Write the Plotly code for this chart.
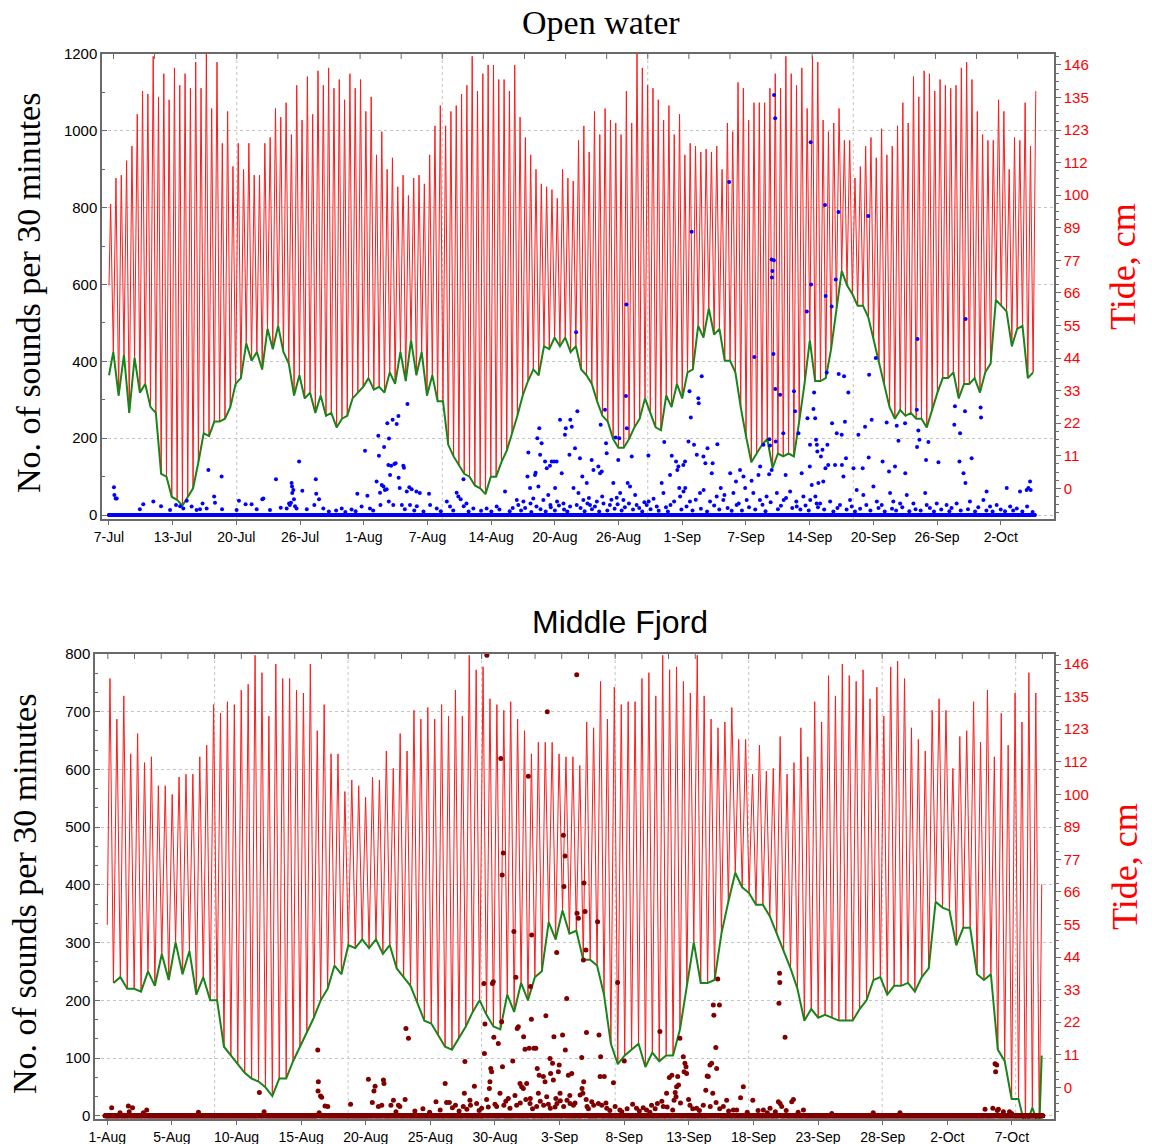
import pandas as pd
import plotly.graph_objects as go

# ---------------------------------------------------------------------------
# Open water station: tide (cm) per tidal cycle and call counts per 30 min
# ---------------------------------------------------------------------------
OW_TIDE_HIGH = [
    98, 107, 108, 113, 118, 129, 137, 136, 149, 135,
    143, 134, 145, 139, 143, 138, 147, 138, 150, 131,
    147, 119, 130, 111, 119, 110, 119, 108, 108, 119,
    121, 131, 128, 133, 122, 139, 127, 142, 129, 144,
    139, 145, 138, 141, 134, 143, 138, 141, 130, 135,
    115, 123, 110, 114, 104, 108, 101, 107, 108, 105,
    115, 125, 132, 125, 130, 132, 136, 139, 149, 137,
    143, 146, 146, 141, 141, 137, 146, 128, 121, 115,
    110, 105, 104, 103, 100, 110, 107, 106, 120, 125,
    116, 130, 122, 131, 127, 126, 122, 137, 126, 150,
    145, 139, 138, 134, 127, 132, 122, 129, 115, 119,
    118, 116, 117, 116, 118, 110, 126, 123, 140, 138,
    127, 133, 133, 133, 138, 143, 138, 149, 143, 139,
    145, 131, 149, 147, 127, 123, 126, 131, 120, 120,
    107, 111, 118, 121, 114, 124, 115, 118, 125, 133,
    126, 142, 135, 144, 143, 137, 141, 139, 138, 139,
    145, 147, 141, 130, 122, 120, 120, 134, 130, 110,
    121, 120, 133, 118, 137,
]
OW_TIDE_LOW = [
    47, 32, 46, 26, 45, 33, 36, 28, 26, 5,
    4, -3, -4, -6, -3, 0, 9, 19, 18, 23,
    23, 24, 28, 36, 38, 50, 44, 47, 41, 55,
    48, 56, 47, 43, 32, 39, 31, 33, 26, 32,
    25, 26, 21, 24, 25, 31, 33, 35, 38, 34,
    35, 33, 40, 36, 47, 37, 51, 39, 47, 32,
    39, 30, 30, 15, 11, 8, 5, 4, 1, 0,
    -2, 4, 4, 9, 13, 19, 25, 32, 37, 41,
    39, 49, 48, 52, 49, 52, 47, 49, 41, 39,
    36, 30, 25, 23, 17, 14, 14, 17, 21, 24,
    31, 26, 21, 20, 32, 28, 36, 31, 40, 41,
    56, 52, 62, 53, 55, 44, 44, 40, 28, 18,
    9, 12, 15, 17, 7, 12, 11, 12, 11, 23,
    36, 51, 37, 37, 38, 48, 62, 75, 70, 67,
    63, 63, 59, 51, 44, 36, 28, 24, 27, 25,
    26, 24, 24, 21, 27, 33, 38, 38, 40, 31,
    36, 36, 38, 33, 40, 43, 65, 63, 61, 49,
    55, 56, 38, 40,
]
OW_TIDE_FIRST = 70      # first logged tide reading, cm
OW_LOW_FIRST = 39       # first logged low-water level, cm

# (days since start of recording, sounds in that 30-min bin); all other bins are 0
OW_CALLS = [
    (0.48, 72), (0.52, 52), (0.65, 43), (0.74, 43), (3.01, 15), (3.34, 28), (4.31, 35),
    (5.06, 23), (5.93, 13), (6.52, 26), (6.91, 23), (7.23, 17), (7.56, 37), (8.04, 22),
    (8.53, 13), (8.85, 15), (9.11, 30), (9.5, 17), (9.67, 117), (10.22, 48), (10.31, 32),
    (10.96, 100), (11.0, 15), (12.42, 13), (12.65, 37), (13.3, 28), (13.88, 28), (14.37, 15),
    (14.92, 41), (15.02, 43), (15.67, 13), (16.25, 93), (16.71, 19), (17.29, 17), (17.52, 30),
    (17.61, 26), (17.71, 32), (17.78, 83), (17.81, 74), (17.84, 57), (17.94, 65), (18.0, 41),
    (18.1, 23), (18.26, 17), (18.49, 139), (18.82, 63), (19.24, 15), (19.98, 26), (20.12, 93),
    (20.16, 55), (20.44, 41), (20.86, 17),
    (21.4, 9), (22.1, 12), (23.0, 8), (23.6, 14), (24.0, 10), (25.7, 12), (28.8, 15), (29.7, 12),
    (30.6, 9), (32.3, 10), (33.5, 12), (35.0, 9), (36.2, 11), (37.2, 9), (38.0, 14), (39.0, 10),
    (39.3, 18),
    (22.64, 17), (24.17, 55), (24.59, 22), (24.92, 167), (25.14, 50), (25.4, 17), (26.05, 87),
    (26.21, 206), (26.28, 154), (26.38, 58), (26.42, 26), (26.54, 78), (26.7, 74), (26.77, 177),
    (26.86, 65), (27.03, 67), (27.09, 239), (27.19, 130), (27.22, 35), (27.25, 199), (27.35, 104),
    (27.45, 128), (27.61, 248), (27.67, 26), (27.77, 133), (27.9, 135), (28.0, 237), (28.16, 258),
    (28.19, 97), (28.3, 70), (28.49, 26), (28.65, 128), (28.71, 123), (28.97, 61), (29.04, 289),
    (29.23, 72), (29.3, 26), (29.46, 67), (29.91, 61), (29.95, 23), (30.26, 57), (31.14, 55),
    (31.24, 26), (31.89, 17), (32.87, 35), (33.19, 22), (33.84, 58), (34.0, 48), (34.23, 41),
    (34.49, 93), (34.53, 23), (34.8, 30), (35.46, 17), (36.76, 17), (37.73, 22), (38.54, 61),
    (39.68, 39), (39.84, 26), (40.33, 35), (40.72, 100), (40.82, 163), (40.98, 70), (41.02, 30),
    (41.3, 43), (41.46, 104), (41.53, 110), (41.69, 200), (41.79, 74), (41.88, 226), (41.95, 157),
    (42.11, 187), (42.28, 39), (42.44, 139), (42.6, 122), (42.76, 52), (42.92, 128), (42.96, 26),
    (43.09, 139), (43.31, 139), (43.41, 70), (43.57, 139), (43.61, 35), (43.9, 248), (44.06, 109),
    (44.22, 30), (44.38, 209), (44.45, 226), (44.81, 157), (44.87, 22), (44.88, 248), (45.04, 230),
    (45.36, 174), (45.45, 476), (45.52, 26), (45.58, 270),
    (40.1, 12), (40.5, 18), (41.1, 8), (41.6, 22), (42.0, 15), (42.5, 9), (43.0, 20), (43.4, 12),
    (43.8, 25), (44.3, 14), (44.6, 9),
    (45.2, 70), (45.68, 57), (45.84, 148), (46.07, 100), (46.17, 39), (46.49, 83), (46.56, 30),
    (46.82, 26), (46.98, 143), (47.14, 117), (47.47, 35), (47.63, 126), (47.79, 109), (47.86, 235),
    (47.95, 113), (48.12, 30), (48.28, 274), (48.38, 187), (48.44, 161), (48.76, 26), (49.09, 83),
    (49.31, 202), (49.41, 45), (49.57, 143), (49.67, 200), (49.74, 57), (50.06, 39), (50.32, 310),
    (50.35, 548), (50.39, 226), (50.48, 83), (50.71, 74), (50.87, 152), (51.36, 26), (52.33, 26),
    (52.49, 155), (52.53, 35), (53.31, 22), (53.79, 83), (53.96, 57), (54.05, 190), (54.6, 104),
    (54.64, 26), (54.77, 154), (55.19, 139), (55.32, 117), (55.42, 126), (55.51, 70), (55.58, 48),
    (55.9, 130), (55.91, 61), (56.06, 139), (56.09, 70), (56.39, 191), (56.49, 322), (56.55, 35),
    (56.62, 254), (56.71, 737), (56.94, 183), (57.2, 157), (57.36, 304), (57.39, 291), (57.52, 57),
    (57.69, 361), (57.85, 152), (57.88, 65), (58.04, 135), (58.24, 174), (58.5, 35), (58.66, 109),
    (58.76, 135), (59.15, 48), (59.21, 184), (59.54, 70), (59.79, 39), (60.36, 867), (60.46, 109),
    (60.77, 57), (61.03, 87), (61.09, 26), (61.42, 117), (61.74, 100), (61.91, 70), (62.07, 39),
    (62.55, 89), (62.71, 57), (62.81, 411), (63.2, 104), (63.36, 39), (63.37, 126), (63.69, 183),
    (64.01, 48), (64.24, 106), (64.27, 197), (64.34, 181), (64.5, 117), (64.47, 665), (64.57, 635),
    (64.53, 618), (64.7, 663), (64.73, 1093), (64.83, 1033), (64.66, 419), (64.86, 328), (64.89, 191),
    (64.99, 57), (65.31, 313), (65.63, 213), (65.66, 39), (65.86, 104), (66.29, 61), (66.67, 322),
    (66.77, 270), (66.93, 22), (67.1, 213), (67.42, 109), (67.58, 48), (67.91, 530), (67.97, 252),
    (68.3, 970), (68.33, 600), (68.23, 183), (68.26, 39), (68.72, 252), (68.81, 196), (68.88, 30),
    (68.94, 165), (69.04, 83),
    (45.9, 18), (46.3, 10), (46.7, 44), (47.0, 15), (47.3, 22), (47.7, 9), (48.0, 48), (48.5, 12),
    (48.9, 40), (49.2, 16), (49.5, 28), (49.9, 12), (50.2, 20), (50.6, 30), (51.0, 14), (51.2, 52),
    (51.6, 18), (51.9, 9), (52.1, 33), (52.7, 15), (53.0, 42), (53.5, 11), (54.2, 20), (54.4, 9),
    (55.0, 35), (55.7, 14), (56.2, 22), (56.8, 12), (57.1, 40), (57.6, 16), (58.2, 9), (58.9, 25),
    (59.4, 14), (59.9, 52), (60.2, 18), (60.6, 11), (61.3, 30), (61.6, 12), (62.3, 20), (62.9, 14),
    (63.6, 27), (63.9, 10), (64.4, 33), (65.1, 15), (65.4, 24), (65.9, 44), (66.5, 18), (66.9, 35),
    (67.3, 14), (67.8, 25), (68.1, 12),
    (68.56, 276), (68.62, 319), (69.69, 807), (69.75, 570), (70.34, 543), (70.73, 613), (70.99, 789),
    (73.9, 778), (73.97, 365), (74.63, 409), (78.68, 458), (83.38, 510), (69.85, 371), (71.02, 367),
    (71.54, 361), (71.96, 319), (70.37, 239), (70.83, 213), (71.31, 209), (71.63, 243), (71.73, 148),
    (71.47, 100), (74.23, 248), (73.59, 230), (72.94, 209), (75.69, 241), (76.67, 232), (77.48, 239),
    (76.83, 193), (78.62, 274), (78.78, 220), (78.88, 196), (78.65, 177), (79.75, 190), (80.72, 137),
    (79.52, 143), (82.28, 235), (82.34, 283), (82.83, 213), (83.32, 270), (84.84, 280), (84.87, 254),
    (83.96, 148), (82.77, 139), (83.16, 109), (73.93, 150), (75.3, 139), (75.92, 113), (76.51, 126),
    (77.51, 109), (69.72, 122), (69.92, 183), (69.43, 170), (69.3, 152), (68.88, 183), (69.53, 87),
    (68.2, 126), (68.39, 78), (70.01, 130), (70.67, 130), (71.34, 130), (72.45, 122), (73.36, 122),
    (83.35, 83), (85.42, 61), (87.37, 70), (88.67, 61), (89.48, 70), (89.64, 87), (89.71, 65),
    (89.32, 65), (68.75, 48), (69.2, 30), (70.18, 35), (71.15, 26), (72.12, 39), (72.77, 65),
    (73.42, 52), (74.4, 74), (74.72, 35), (75.21, 26), (76.02, 57), (76.34, 35), (76.99, 30),
    (77.64, 52), (78.29, 30), (79.43, 57), (79.59, 26), (80.56, 30), (81.53, 26), (82.51, 30),
    (83.8, 35), (85.1, 39), (85.75, 22), (86.4, 26), (87.7, 22), (88.35, 17), (89.35, 22),
    (69.0, 20), (69.6, 14), (70.5, 9), (70.9, 18), (71.8, 14), (72.3, 22), (72.6, 9), (73.1, 16),
    (73.7, 26), (74.1, 12), (74.9, 18), (75.5, 9), (76.2, 16), (76.6, 12), (77.2, 20), (77.9, 10),
    (78.5, 15), (79.0, 12), (79.9, 18), (80.3, 9), (81.0, 14), (81.8, 10), (82.0, 18), (82.9, 12),
    (83.6, 15), (84.3, 9), (84.6, 20), (85.4, 12), (86.0, 9), (86.8, 14), (87.2, 10), (88.0, 12),
    (88.9, 9), (89.9, 8),
]
OW_TICK_LABELS = ["7-Jul", "13-Jul", "20-Jul", "26-Jul", "1-Aug", "7-Aug", "14-Aug", "20-Aug",
                  "26-Aug", "1-Sep", "7-Sep", "14-Sep", "20-Sep", "26-Sep", "2-Oct"]

# ---------------------------------------------------------------------------
# Middle Fjord station
# ---------------------------------------------------------------------------
MF_TIDE_HIGH = [
    141, 127, 135, 115, 122, 112, 114, 104, 104, 101,
    107, 108, 108, 114, 118, 132, 129, 133, 132, 137,
    139, 149, 143, 128, 146, 141, 141, 137, 136, 146,
    123, 132, 115, 115, 102, 106, 104, 100, 107, 106,
    116, 110, 122, 116, 130, 127, 131, 127, 132, 128,
    137, 128, 149, 144, 145, 134, 132, 130, 133, 127,
    123, 115, 119, 119, 119, 115, 114, 114, 111, 126,
    124, 140, 127, 138, 132, 133, 133, 141, 143, 135,
    149, 144, 145, 140, 136, 149, 135, 127, 124, 126,
    131, 120, 120, 108, 118, 109, 110, 121, 108, 112,
    124, 114, 133, 126, 142, 135, 146, 142, 140, 144,
    134, 138, 128, 145, 147, 141, 124, 120, 116, 130,
    134, 130, 110, 121, 123, 133, 119, 137, 114, 129,
    118, 136, 126, 143, 136,
]
MF_TIDE_LOW = [
    36, 38, 34, 34, 33, 40, 35, 46, 37, 50,
    39, 47, 32, 38, 30, 30, 14, 11, 8, 5,
    3, 2, 0, -3, 3, 3, 9, 14, 19, 24,
    30, 34, 42, 39, 49, 48, 51, 48, 51, 46,
    49, 41, 38, 35, 29, 23, 22, 18, 14, 13,
    17, 21, 26, 30, 25, 21, 20, 32, 26, 36,
    30, 38, 40, 57, 51, 61, 53, 54, 44, 44,
    42, 32, 15, 8, 11, 13, 15, 7, 12, 9,
    11, 11, 20, 35, 50, 36, 36, 37, 53, 64,
    74, 69, 67, 63, 63, 59, 53, 47, 41, 34,
    23, 27, 24, 25, 24, 23, 23, 23, 27, 30,
    37, 38, 32, 35, 35, 36, 33, 38, 41, 64,
    62, 61, 49, 55, 55, 39, 37, 39, 13, 9,
    -4, -4, -14, -7, -14,
]
MF_TIDE_FIRST = 56
MF_TIDE_LAST = 70
MF_LOW_LAST = 11

# (days since 1 Aug 00:00, sounds in that 30-min bin); all other bins are 0
MF_CALLS = [
    (0.39, 14), (1.01, 5), (1.64, 17), (1.71, 7), (1.96, 14), (2.76, 5), (3.01, 10), (6.88, 6),
    (11.45, 40), (11.8, 7), (15.82, 114), (15.87, 59), (15.85, 43), (15.94, 5), (16.04, 34),
    (16.12, 32), (16.37, 17), (16.57, 16),
    (18.29, 20), (19.61, 63), (19.91, 23), (20.04, 43), (20.11, 51), (20.36, 16), (20.61, 18),
    (20.74, 62), (20.79, 56), (21.31, 18), (21.49, 27), (21.68, 7), (21.86, 18), (21.98, 16),
    (22.36, 28), (22.43, 151), (22.61, 134), (24.68, 24), (25.36, 56), (25.48, 23), (25.68, 23),
    (26.13, 18), (26.73, 16), (26.8, 39), (26.85, 94), (27.23, 27), (27.26, 18), (27.55, 51),
    (27.73, 21), (28.1, 13), (28.27, 229), (28.3, 108), (28.35, 159), (28.48, 28), (28.5, 798),
    (28.68, 47), (28.73, 59), (28.78, 82), (28.85, 76), (28.9, 229), (28.98, 232), (29.01, 136),
    (29.23, 16), (29.35, 125), (29.48, 39), (29.53, 619), (29.6, 163), (29.63, 417), (29.65, 85),
    (29.73, 455), (29.76, 18), (30.22, 13), (30.43, 95), (30.52, 319), (30.67, 240), (30.72, 18),
    (30.77, 151), (30.85, 154), (30.97, 56), (31.1, 50), (31.22, 47), (31.25, 137), (31.35, 115),
    (31.47, 56), (31.6, 588), (31.65, 117), (31.72, 21), (31.75, 30), (31.77, 224), (31.82, 167),
    (31.85, 313), (32.02, 117), (32.15, 117), (32.22, 16), (32.27, 82), (32.35, 39), (32.42, 70),
    (32.72, 68), (32.75, 18), (32.85, 59), (32.92, 173), (32.97, 33), (33.02, 700), (33.22, 99),
    (33.25, 13), (33.27, 73), (33.42, 91), (33.47, 62), (33.52, 137), (33.67, 30), (33.72, 283),
    (33.75, 21), (33.84, 76), (33.92, 88), (33.97, 39), (34.17, 140), (34.22, 486), (34.25, 16),
    (34.27, 397), (34.34, 450), (34.37, 114), (34.47, 203), (34.5, 27), (34.59, 70), (34.72, 21),
    (34.84, 73), (34.97, 18), (35.22, 764),
    (35.77, 403), (35.25, 351), (35.84, 354), (35.34, 342), (35.72, 270), (35.92, 287), (36.79, 336),
    (38.29, 231), (35.95, 144), (36.89, 140), (35.59, 101), (37.02, 102), (37.29, 68), (36.97, 68),
    (37.97, 57), (35.75, 59), (35.62, 47), (35.69, 39), (35.47, 36), (35.99, 16), (36.34, 24),
    (36.84, 21), (37.09, 18), (37.47, 13), (38.46, 10), (38.79, 95), (39.71, 13), (40.46, 10),
    (40.83, 18), (41.26, 21), (41.46, 146), (41.71, 16), (41.96, 39), (42.16, 66), (42.34, 70),
    (42.51, 27), (42.66, 33), (42.59, 40), (42.71, 50), (42.84, 53), (42.79, 68), (42.96, 134),
    (43.21, 102), (43.33, 91), (43.41, 85), (43.46, 73), (43.26, 76), (43.71, 18), (44.21, 13),
    (44.71, 18), (44.88, 44), (45.0, 69), (45.08, 68), (45.21, 88), (45.33, 91), (45.41, 39),
    (45.45, 192), (45.5, 174), (45.91, 192), (45.63, 118), (45.66, 23), (45.71, 82), (45.78, 237),
    (46.21, 16), (46.45, 27), (46.96, 10), (47.5, 31), (47.71, 50), (48.4, 27), (49.2, 10),
    (49.7, 13), (50.4, 247), (50.43, 231), (50.37, 195), (50.82, 136), (50.33, 24), (50.45, 21),
    (50.58, 16), (51.32, 24), (51.45, 28), (52.2, 10),
    (23.1, 8), (23.7, 12), (24.2, 6), (25.0, 10), (25.9, 14), (26.4, 8), (27.0, 11), (27.9, 9),
    (28.6, 15), (29.1, 20), (29.9, 25), (30.1, 30), (30.6, 35), (31.0, 22), (31.4, 28), (31.9, 12),
    (32.5, 25), (33.1, 20), (33.6, 15), (34.0, 26), (34.7, 35), (35.1, 22), (35.9, 28), (36.1, 12),
    (36.5, 18), (37.4, 22), (37.7, 9), (38.1, 16), (38.6, 7), (39.0, 12), (39.4, 20), (39.9, 8),
    (40.2, 14), (40.7, 6), (41.1, 12), (41.6, 25), (42.0, 15), (42.4, 10), (43.0, 22), (43.6, 28),
    (43.9, 12), (44.4, 9), (45.2, 16), (45.9, 12), (46.6, 8), (47.2, 10), (48.0, 6), (48.8, 9),
    (49.5, 5), (50.1, 7), (50.9, 9), (51.8, 6),
    (54.32, 4), (57.44, 5), (59.44, 5), (65.8, 11), (66.56, 90), (66.68, 88), (66.6, 76),
    (66.38, 13), (66.72, 9), (66.81, 11), (67.18, 7), (67.63, 7), (67.8, 4),
]
MF_TICK_LABELS = ["1-Aug", "5-Aug", "10-Aug", "15-Aug", "20-Aug", "25-Aug", "30-Aug", "3-Sep",
                  "8-Sep", "13-Sep", "18-Sep", "23-Sep", "28-Sep", "2-Oct", "7-Oct"]

TIDE_TICK_LABELS = ["0", "11", "22", "33", "44", "55", "66", "77", "89", "100",
                    "112", "123", "135", "146"]

# ---------------------------------------------------------------------------
# helpers
# ---------------------------------------------------------------------------
TIDE_PERIOD = pd.Timedelta(hours=12.42)
BIN = pd.Timedelta(minutes=30)
JUL0 = pd.Timestamp("2013-07-01")
AUG0 = pd.Timestamp("2013-08-01")


def jul(d):
    return JUL0 + pd.Timedelta(days=d - 1)


def aug(d):
    return AUG0 + pd.Timedelta(days=d - 1)


def iso(t):
    return t.strftime("%Y-%m-%d %H:%M:%S")


def tide_curve(first_high, highs, lows, head=None, tail=None):
    t, v = [], []
    if head is not None:
        t.append(head[0]); v.append(head[1])
    for k, h in enumerate(highs):
        t.append(first_high + k * TIDE_PERIOD); v.append(h)
        if k < len(lows):
            t.append(first_high + (k + 0.5) * TIDE_PERIOD); v.append(lows[k])
    if tail is not None:
        t.append(tail[0]); v.append(tail[1])
    return t, v


def low_curve(first_high, lows, head=None, tail=None):
    t = [first_high + (k + 0.5) * TIDE_PERIOD for k in range(len(lows))]
    v = list(lows)
    if head is not None:
        t.insert(0, head[0]); v.insert(0, head[1])
    if tail is not None:
        t.append(tail[0]); v.append(tail[1])
    return t, v


def count_bins(start, n_bins, origin, calls):
    counts = [0] * n_bins
    for day, n in calls:
        i = int(round((origin + pd.Timedelta(days=day) - start) / BIN))
        while 0 <= i < n_bins - 1 and counts[i]:
            i += 1
        if 0 <= i < n_bins:
            counts[i] = n
    return pd.date_range(start, periods=n_bins, freq="30min"), counts


SERIF = "Liberation Serif, Times New Roman, serif"
SANS = "Liberation Sans, Arial, sans-serif"
FRAME = "#6a6a6a"
GRID = "#c4c4c4"
W, H = 1152, 1144

# ---------------------------------------------------------------------------
# data series
# ---------------------------------------------------------------------------
ow_start = pd.Timestamp("2013-07-07 20:40")
ow_first_high = pd.Timestamp("2013-07-08 00:32")
ow_tt, ow_tv = tide_curve(ow_first_high, OW_TIDE_HIGH, OW_TIDE_LOW, head=(ow_start, OW_TIDE_FIRST))
ow_lt, ow_lv = low_curve(ow_first_high, OW_TIDE_LOW, head=(ow_start, OW_LOW_FIRST))
ow_ct, ow_cv = count_bins(pd.Timestamp("2013-07-07 20:45"), 4326,
                          pd.Timestamp("2013-07-07 20:45"), OW_CALLS)

mf_first_high = pd.Timestamp("2013-08-01 06:17")
mf_head = pd.Timestamp("2013-08-01 01:26")
mf_tail = pd.Timestamp("2013-10-10 01:12")
mf_tt, mf_tv = tide_curve(mf_first_high, MF_TIDE_HIGH, MF_TIDE_LOW,
                          head=(mf_head, MF_TIDE_FIRST), tail=(mf_tail, MF_TIDE_LAST))
mf_lt, mf_lv = low_curve(mf_first_high, MF_TIDE_LOW, tail=(mf_tail, MF_LOW_LAST))
mf_ct, mf_cv = count_bins(pd.Timestamp("2013-07-31 21:20"), 3373,
                          pd.Timestamp("2013-08-01 00:00"), MF_CALLS)

fig = go.Figure()
# tide (red) and low water (green) on the tide axis, sounds on the overlaid count axis
fig.add_trace(go.Scatter(x=ow_tt, y=ow_tv, mode="lines", line=dict(color="#ff1a1a", width=1),
                         xaxis="x", yaxis="y", hoverinfo="skip"))
fig.add_trace(go.Scatter(x=ow_lt, y=ow_lv, mode="lines", line=dict(color="#1a841a", width=2),
                         xaxis="x", yaxis="y", hoverinfo="skip"))
fig.add_trace(go.Scatter(x=ow_ct, y=ow_cv, mode="markers",
                         marker=dict(color="#0000ff", size=4, line=dict(width=0)),
                         xaxis="x", yaxis="y2"))
fig.add_trace(go.Scatter(x=mf_tt, y=mf_tv, mode="lines", line=dict(color="#ff1a1a", width=1),
                         xaxis="x2", yaxis="y3", hoverinfo="skip"))
fig.add_trace(go.Scatter(x=mf_lt, y=mf_lv, mode="lines", line=dict(color="#1a841a", width=2),
                         xaxis="x2", yaxis="y3", hoverinfo="skip"))
fig.add_trace(go.Scatter(x=mf_ct, y=mf_cv, mode="markers",
                         marker=dict(color="#800000", size=5, line=dict(width=0)),
                         xaxis="x2", yaxis="y4"))

# ---------------------------------------------------------------------------
# axes
# ---------------------------------------------------------------------------
def px_x(a, b):
    return [a / W, b / W]


def px_y(top, bottom):
    return [1 - bottom / H, 1 - top / H]


tide_vals = [146 * k / 13 for k in range(14)]


def x_axis(domain, rng, ticks, labels, anchor):
    return dict(domain=domain, anchor=anchor, type="date", range=[iso(rng[0]), iso(rng[1])],
                tickmode="array", tickvals=[iso(t) for t in ticks], ticktext=labels,
                ticks="outside", ticklen=4, tickcolor=FRAME, tickfont=dict(family=SANS, size=14, color="black"),
                showgrid=False, zeroline=False, showline=True, linecolor=FRAME, linewidth=1.5,
                mirror=True)


def tide_axis(domain, anchor, rng):
    return dict(domain=domain, anchor=anchor, side="right", range=rng, tickmode="array",
                tickvals=tide_vals, ticktext=TIDE_TICK_LABELS, ticks="outside", ticklen=5,
                tickcolor=FRAME, tickfont=dict(family=SANS, size=15, color="#ff0000"),
                minor=dict(tickmode="linear", tick0=0, dtick=146 / 52, ticks="outside",
                           ticklen=3, tickcolor=FRAME, showgrid=False),
                showgrid=False, zeroline=False, showline=True, linecolor=FRAME, linewidth=1.5)


def count_axis(over, anchor, rng, step, minor_step):
    return dict(overlaying=over, anchor=anchor, side="left", range=rng, tickmode="linear",
                tick0=0, dtick=step, ticks="inside", ticklen=5, tickcolor=FRAME,
                tickfont=dict(family=SANS, size=15, color="black"),
                minor=dict(tickmode="linear", tick0=0, dtick=minor_step, ticks="inside",
                           ticklen=3, tickcolor=FRAME, showgrid=False),
                showgrid=True, gridcolor=GRID, griddash="dot", gridwidth=1,
                zeroline=False, showline=True, linecolor=FRAME, linewidth=1.5)


ow_dom_y = px_y(54, 519)
mf_dom_y = px_y(654, 1119)
ow_range = (jul(7.18), jul(99.84))
mf_range = (aug(0.14), aug(71.97))
ow_ticks = [jul(7.86 + 6.2 * k) for k in range(len(OW_TICK_LABELS))]
mf_ticks = [aug(1.06 + 4.84 * k) for k in range(len(MF_TICK_LABELS))]

fig.update_layout(
    xaxis=x_axis(px_x(102, 1054), ow_range, ow_ticks, OW_TICK_LABELS, "y"),
    yaxis=tide_axis(ow_dom_y, "x", [-10.59, 149.79]),
    yaxis2=count_axis("y", "x", [-10.41, 1200], 200, 100),
    xaxis2=x_axis(px_x(95, 1054), mf_range, mf_ticks, MF_TICK_LABELS, "y3"),
    yaxis3=tide_axis(mf_dom_y, "x2", [-10.93, 149.45]),
    yaxis4=count_axis("y3", "x2", [-5.7, 800], 100, 100 / 3),
)

# vertical dotted grid and the short ticks along the upper frame
shapes = []
for xr, yr, grid, tick_marks in (
    ("x", "y domain", [jul(20.3 + 20 * j) for j in range(4)], [jul(8.3 + 4 * j) for j in range(23)]),
    ("x2", "y3 domain", [aug(9.1 + 10 * j) for j in range(7)], [aug(1.1 + 2 * j) for j in range(36)]),
):
    for g in grid:
        shapes.append(dict(type="line", xref=xr, yref=yr, x0=iso(g), x1=iso(g), y0=0, y1=1,
                           line=dict(color=GRID, width=1, dash="dot"), layer="below"))
    for t in tick_marks:
        shapes.append(dict(type="line", xref=xr, yref=yr, x0=iso(t), x1=iso(t), y0=1, y1=1 - 5 / 465,
                           line=dict(color=FRAME, width=1), layer="above"))


def ann(text, x, y, family, size, color="black", angle=0):
    return dict(text=text, x=x / W, y=1 - y / H, xref="paper", yref="paper", showarrow=False,
                xanchor="center", yanchor="middle", textangle=angle,
                font=dict(family=family, size=size, color=color))


annotations = [
    ann("Open water", 601, 22, SERIF, 34),
    ann("Middle Fjord", 620, 622, SANS, 32),
    ann("No. of sounds per 30 minutes", 29, 293, SERIF, 34, angle=-90),
    ann("No. of sounds per 30 minutes", 24, 894, SERIF, 34, angle=-90),
    ann("Tide, cm", 1123, 267, SERIF, 36, color="#ff0000", angle=-90),
    ann("Tide, cm", 1125, 867, SERIF, 36, color="#ff0000", angle=-90),
]

# the figure takes its size from its container div, pinned to the page's top-left corner
fig.update_layout(autosize=True, margin=dict(l=0, r=0, t=0, b=0, autoexpand=False),
                  showlegend=False, plot_bgcolor="white", paper_bgcolor="white",
                  shapes=shapes, annotations=annotations)

fig.write_html("out.html",
               default_width=f"{W}px;position:absolute;left:0;top:0",
               default_height=f"{H}px")
